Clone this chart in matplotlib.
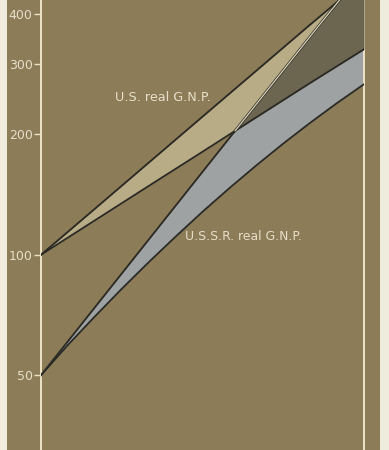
import numpy as np
import matplotlib
matplotlib.use("Agg")
import matplotlib.pyplot as plt

# ---- data (log scale values) ----
x_pos = [0, 1, 2, 3, 4, 5, 6]
us_upper = [100, 130.3, 169.9, 221.5, 288.6, 376.3, 488.0]
us_lower = [100, 121.9, 148.6, 181.0, 220.7, 268.9, 326.5]
ussr_upper = [50, 73.9, 109.1, 161.2, 238.1, 351.7, 516.0]
x_half = [0, 0.5, 1, 1.5, 2, 2.5, 3, 3.5, 4, 4.5, 5, 5.5, 6]
ussr_lower = [50, 59.5, 70.1, 82.2, 95.8, 111.0, 128.1, 146.8, 167.3, 189.7, 213.8, 239.6, 267.0]
ytick_vals = [50, 100, 200, 300, 400]
ytick_labels = ["50", "100", "200", "300", "400"]
label_us = "U.S. real G.N.P."
label_ussr = "U.S.S.R. real G.N.P."

# ---- style ----
BG = "#8c7c58"
CREAM = "#efebdd"
AXIS_CREAM = "#ede3c6"
TEXT = "#e6dfca"
TAN = "#b8ac86"
LGREY = "#9ea2a3"
DGREY = "#6c6651"
LINE = "#2a2924"
FONT = "DejaVu Sans"

W, H = 389, 450
fig = plt.figure(figsize=(W / 100, H / 100), dpi=100, facecolor=CREAM)
bg_ax = fig.add_axes([7 / W, 0, (380 - 7) / W, 1], zorder=-5)
bg_ax.set_axis_off()
bg_ax.add_patch(plt.Rectangle((0, 0), 1, 1, transform=bg_ax.transAxes,
                              facecolor=BG, edgecolor="none"))

ax = fig.add_axes([41 / W, 0, (364 - 41) / W, 1], zorder=1)
ax.set_facecolor(BG)
ax.set_yscale("log")
ax.set_xlim(0, 6)
ax.set_ylim(32.5, 433.6)

# dense geometry for fills (log-linear between read points)
xd = np.linspace(0, 6, 1200)
def dense(xs, v):
    return np.exp(np.interp(xd, xs, np.log(v)))
usu = dense(x_pos, us_upper)
usl = dense(x_pos, us_lower)
sru = dense(x_pos, ussr_upper)
srl = dense(x_half, ussr_lower)

ax.fill_between(xd, usl, usu, color=TAN, lw=0, zorder=1)
ax.fill_between(xd, srl, sru, color=LGREY, lw=0, zorder=2)
ov_top = np.minimum(usu, sru)
mask = ov_top > usl
ax.fill_between(xd, usl, ov_top, where=mask, color=DGREY, lw=0, zorder=3, interpolate=True)

lw = 1.3
ax.plot(x_pos, us_upper, color=LINE, lw=lw, zorder=5)
ax.plot(x_pos, us_lower, color=LINE, lw=lw, zorder=5)
ax.plot(x_half, ussr_lower, color=LINE, lw=lw, zorder=5)
# USSR upper: dark before crossing, light edge in the overlap
cross = int(np.argmax(mask))
ax.plot(xd[:cross + 1], sru[:cross + 1], color=LINE, lw=lw, zorder=5)
ax.plot(xd[cross:], sru[cross:], color="#2e2c26", lw=lw + 0.6, zorder=5)
ax.plot(xd[cross:], sru[cross:], color="#d9d2b8", lw=0.9, zorder=6)

ax.text(2.27, 246.7, label_us, color=TEXT, fontsize=9.2, ha="center", va="center",
        family=FONT, zorder=7)
ax.text(2.67, 110.9, label_ussr, color=TEXT, fontsize=8.9, ha="left", va="center",
        family=FONT, zorder=7)

ax.set_yticks(ytick_vals)
ax.set_yticklabels(ytick_labels, family=FONT)
ax.yaxis.set_minor_locator(matplotlib.ticker.NullLocator())
ax.tick_params(axis="y", direction="out", length=5, width=1, color=AXIS_CREAM,
               labelcolor=TEXT, labelsize=9, pad=1)
ax.set_xticks([])
for s in ("top", "bottom"):
    ax.spines[s].set_visible(False)
for s in ("left", "right"):
    ax.spines[s].set_color(AXIS_CREAM)
    ax.spines[s].set_linewidth(1.4)

fig.savefig("out.png", dpi=100, facecolor=CREAM)
